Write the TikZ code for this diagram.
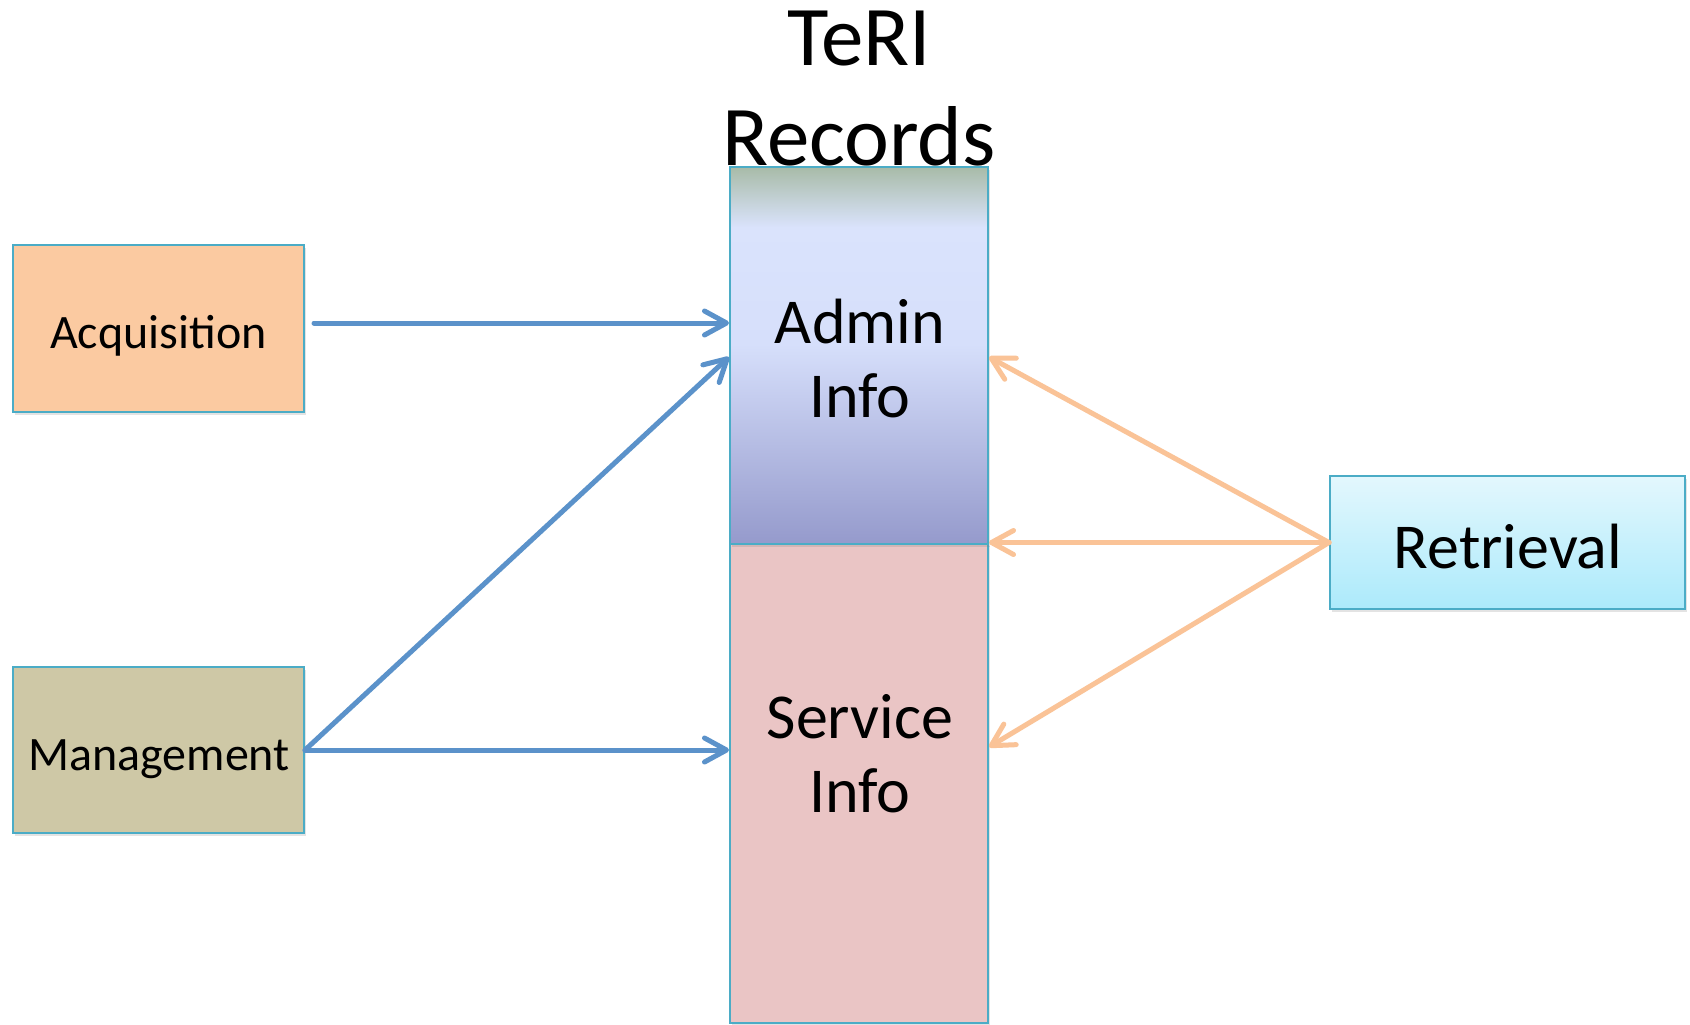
\documentclass[tikz,border=0pt]{standalone}
\usepackage{fontspec}
\setmainfont{Carlito}
\usetikzlibrary{arrows.meta,calc,shadows}
\definecolor{bordc}{HTML}{4BACC6}
\definecolor{acqfill}{HTML}{FBCAA1}
\definecolor{mgmtfill}{HTML}{CEC8A6}
\definecolor{retTop}{HTML}{E3F7FD}
\definecolor{retBot}{HTML}{ACEAFB}
\definecolor{servfill}{HTML}{EAC5C5}
\definecolor{admtop}{HTML}{A8BBA8}
\definecolor{admlight}{HTML}{DAE3FC}
\definecolor{admmid}{HTML}{D6DFFB}
\definecolor{admbot}{HTML}{959ACC}
\definecolor{arrblue}{HTML}{5B92CA}
\definecolor{arrorange}{HTML}{FAC397}
\pgfdeclareverticalshading{adminshade}{100bp}{color(0bp)=(admbot); color(25bp)=(admbot); color(51.5bp)=(admmid); color(67bp)=(admlight); color(75bp)=(admtop); color(100bp)=(admtop)}
\begin{document}
\begin{tikzpicture}[x=0.5pt,y=-0.5pt,
  box/.style={draw=bordc, line width=1pt, inner sep=0pt,
    drop shadow={shadow xshift=0.8pt, shadow yshift=-1.3pt, opacity=0.22}},
  smalltxt/.style={font=\fontsize{24}{28}\selectfont, inner sep=0pt, anchor=base},
  bigtxt/.style={font=\fontsize{32}{37}\selectfont, inner sep=0pt, anchor=base},
  titletxt/.style={font=\fontsize{42.5}{50}\selectfont, inner sep=0pt, anchor=base},
  barrow/.style={draw=arrblue, line width=2.5pt, line cap=round,
    -{Straight Barb[length=11pt,width=12pt,line cap=round,line join=round]}},
  oarrow/.style={draw=arrorange, line width=2.5pt, line cap=round,
    -{Straight Barb[length=11pt,width=12pt,line cap=round,line join=round]}}
]
\useasboundingbox (0,0) rectangle (1690,1024);
\fill[white] (0,0) rectangle (1690,1024);

% title
\node[titletxt] (title1) at (859,65) {TeRI};
\node[titletxt] (title2) at (859,165) {Records};

% boxes
\node[box, fill=acqfill, minimum width=145.5pt, minimum height=83.5pt] (acq) at (158.5,328.5) {};
\node[box, fill=mgmtfill, minimum width=145.5pt, minimum height=83pt] (mgmt) at (158.5,750) {};
\node[box, top color=retTop, bottom color=retBot, minimum width=177.5pt, minimum height=66.5pt] (ret) at (1507.5,542.5) {};
\node[box, fill=servfill, minimum width=129pt, minimum height=240pt] (serv) at (859,783) {};
\node[box, shading=adminshade, minimum width=129pt, minimum height=188.5pt] (admin) at (859,355.5) {};

% labels
\node[smalltxt] (acqtxt) at (158.5,348) {Acquisition};
\node[smalltxt] (mgmttxt) at (159,770) {Management};
\node[bigtxt] (rettxt) at (1508,568) {Retrieval};
\node[bigtxt] (admtxt1) at (860,343) {Admin};
\node[bigtxt] (admtxt2) at (860,417) {Info};
\node[bigtxt] (servtxt1) at (860,738) {Service};
\node[bigtxt] (servtxt2) at (860,812) {Info};

% connectors
\draw[barrow] (acq.east) ++(9,-5.5) coordinate (a1) -- (a1 -| admin.west);
\draw[barrow] (mgmt.east) -- ($(admin.west)+(0,1.5)$);
\draw[barrow] (mgmt.east) -- (mgmt.east -| serv.west);

\draw[oarrow] (ret.west) -- ($(admin.east)+(0,1.5)$);
\draw[oarrow] (ret.west) -- (ret.west -| admin.east);
\draw[oarrow] (ret.west) -- ($(serv.east)+(0,-36)$);
\end{tikzpicture}
\end{document}
